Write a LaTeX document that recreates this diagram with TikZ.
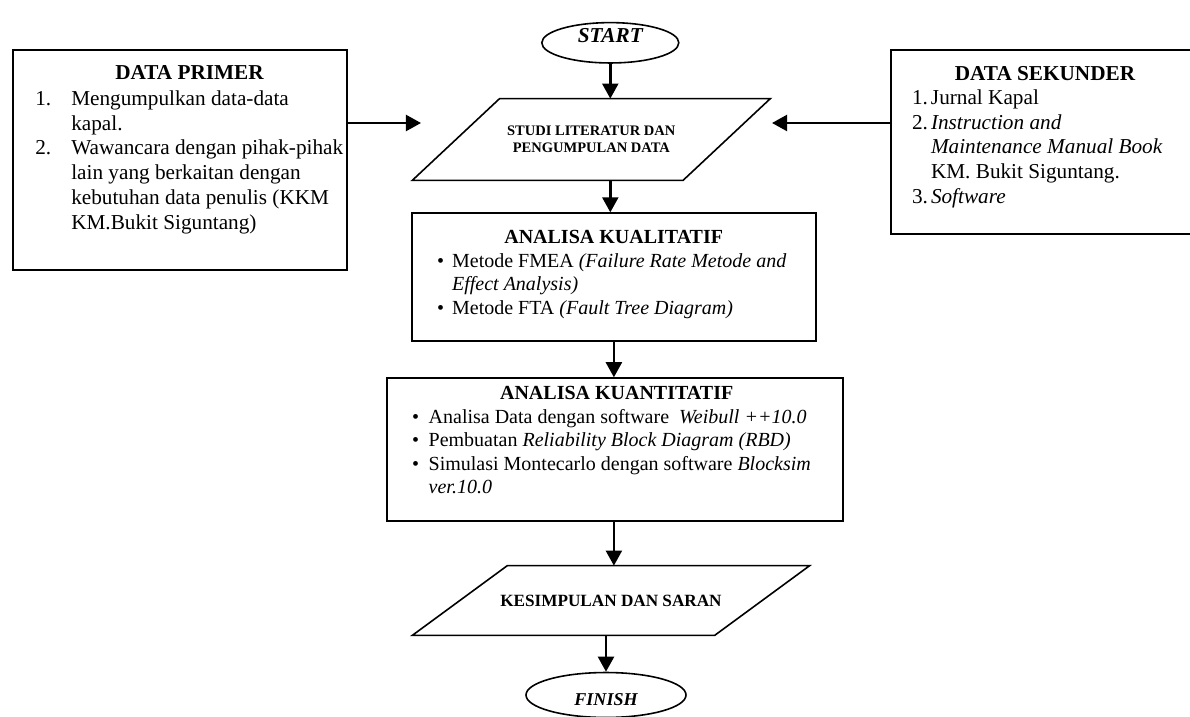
\documentclass[tikz,border=0pt]{standalone}
\usepackage{fontspec}
\setmainfont{Liberation Serif}
\usetikzlibrary{arrows.meta,shapes.geometric,calc}
\begin{document}
\begin{tikzpicture}[x=0.565pt,y=-0.565pt,
  box/.style={draw,line width=1.1pt,rectangle,inner sep=0pt},
  para/.style={rectangle,inner sep=0pt,align=center},
  paraline/.style={line width=0.9pt,line join=miter},
  term/.style={draw,ellipse,line width=0.9pt,inner sep=0pt},
  arr/.style={line width=1.4pt,-{Triangle[length=8.5pt,width=9pt]}},
  ttl/.style={anchor=base,inner sep=0pt,font=\fontsize{12}{14}\selectfont\bfseries},
  ttlm/.style={anchor=base,inner sep=0pt,font=\fontsize{11.3}{13.2}\selectfont\bfseries},
  lst/.style={anchor=north west,inner sep=0pt,align=left,font=\fontsize{12}{14}\selectfont},
  lstm/.style={anchor=north west,inner sep=0pt,align=left,font=\fontsize{11.3}{13.2}\selectfont},
]
\useasboundingbox (0,0) rectangle (1190,717);

% terminals
\node[term, minimum width=77.4pt, minimum height=22.8pt,
      font=\fontsize{12}{14}\selectfont\bfseries\itshape,
      text height=7.9pt, text depth=7.7pt] (start) at (610.3,42.8) {START};
\node[term, minimum width=90.4pt, minimum height=25.4pt,
      font=\fontsize{10.2}{12}\selectfont\bfseries\itshape,
      text height=11.4pt, text depth=0pt] (finish) at (606,695) {FINISH};

% data primer
\node[box, minimum width=188.7pt, minimum height=124.3pt] (primer) at (179.7,160) {};
\node[ttl] (primerT) at (189.5,80) {DATA PRIMER};
\node[lst] (primerL) at (35,87.65) {\strut\makebox[20.3pt][l]{1.}Mengumpulkan data-data\\
\hspace*{20.3pt}kapal.\\
\makebox[20.3pt][l]{2.}Wawancara dengan pihak-pihak\\
\hspace*{20.3pt}lain yang berkaitan dengan\\
\hspace*{20.3pt}kebutuhan data penulis (KKM\\
\hspace*{20.3pt}KM.Bukit Siguntang)};

% data sekunder
\node[box, minimum width=175.2pt, minimum height=104pt] (sekunder) at (1046,142) {};
\node[ttl] (sekunderT) at (1045,81) {DATA SEKUNDER};
\node[lst] (sekunderL) at (911.7,86.65) {\strut\makebox[10.7pt][l]{1.}Jurnal Kapal\\
\makebox[10.7pt][l]{2.}\textit{Instruction and}\\
\hspace*{10.7pt}\textit{Maintenance Manual Book}\\
\hspace*{10.7pt}KM. Bukit Siguntang.\\
\makebox[10.7pt][l]{3.}\textit{Software}};

% studi literatur
\node[para, minimum width=201.9pt, minimum height=45.8pt,
      font=\fontsize{8.2}{9.5}\selectfont\bfseries] (lit) at (591.3,139.5)
      {STUDI LITERATUR DAN\\PENGUMPULAN DATA};
\draw[paraline] ($(lit.north west)+(87.3,0)$) -- (lit.north east)
  -- ($(lit.south east)-(87.3,0)$) -- (lit.south west) -- cycle;

% analisa kualitatif
\node[box, minimum width=228.4pt, minimum height=72.3pt] (kual) at (613.9,277.3) {};
\node[ttlm] (kualT) at (613.7,243.7) {ANALISA KUALITATIF};
\node[lstm] (kualL) at (436.7,250.65) {\strut\makebox[8.5pt][l]{\textbullet}Metode FMEA \textit{(Failure Rate Metode and}\\
\hspace*{8.5pt}\textit{Effect Analysis)}\\
\makebox[8.5pt][l]{\textbullet}Metode FTA \textit{(Fault Tree Diagram)}};

% analisa kuantitatif
\node[box, minimum width=257.6pt, minimum height=80.5pt] (kuan) at (615.3,449.5) {};
\node[ttlm] (kuanT) at (616.7,399.7) {ANALISA KUANTITATIF};
\node[lstm] (kuanL) at (411.7,406.65) {\strut\makebox[9.4pt][l]{\textbullet}Analisa Data dengan software \ \textit{Weibull ++10.0}\\
\makebox[9.4pt][l]{\textbullet}Pembuatan \textit{Reliability Block Diagram (RBD)}\\
\makebox[9.4pt][l]{\textbullet}Simulasi Montecarlo dengan software \textit{Blocksim}\\
\hspace*{9.4pt}\textit{ver.10.0}};

% kesimpulan
\node[para, minimum width=224.1pt, minimum height=39pt,
      font=\fontsize{9.7}{11}\selectfont\bfseries] (kes) at (611,600.5)
      {KESIMPULAN DAN SARAN};
\draw[paraline] ($(kes.north west)+(95,0)$) -- (kes.north east)
  -- ($(kes.south east)-(95,0)$) -- (kes.south west) -- cycle;

% connectors
\coordinate (pin) at (421,123);
\coordinate (sin) at (772,123);
\draw[arr] (start.south) -- (start.south |- lit.north);
\draw[arr] (lit.south -| start.south) -- (kual.north -| start.south);
\draw[arr] (kual.south) -- (kuan.north -| kual.south);
\draw[arr] (kuan.south -| kual.south) -- (kes.north -| kual.south);
\draw[arr] (kes.south -| finish.north) -- (finish.north);
\draw[arr] (primer.east |- pin) -- (pin);
\draw[arr] (sekunder.west |- sin) -- (sin);
\end{tikzpicture}
\end{document}
